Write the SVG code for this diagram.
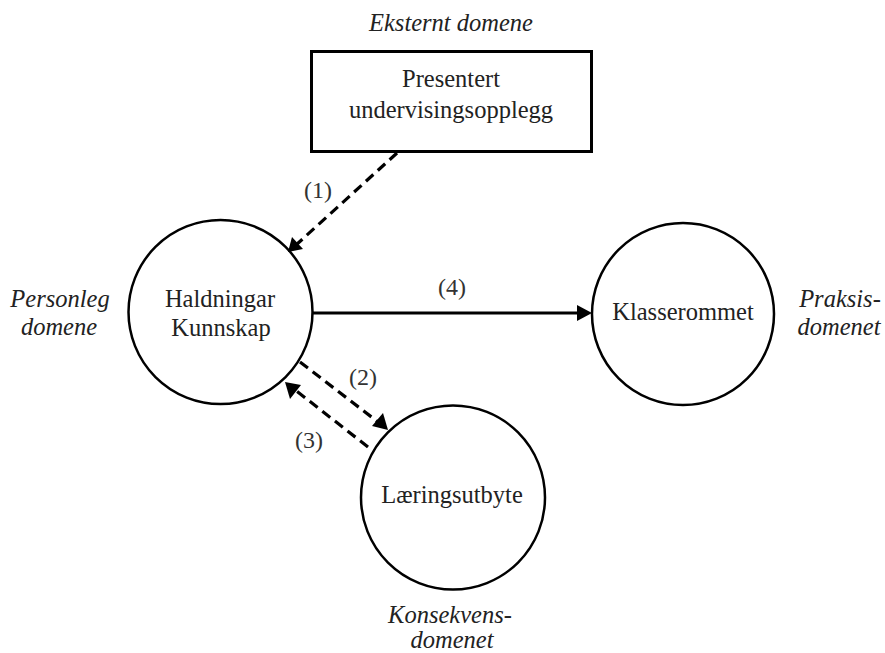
<svg xmlns="http://www.w3.org/2000/svg" width="885" height="653" viewBox="0 0 885 653">
  <defs>
    <style>
      .node { fill: #fff; stroke: #000; stroke-width: 2.5; }
      .box { fill: #fff; stroke: #000; stroke-width: 3; }
      .label { font-family: "Liberation Serif", "Times New Roman", serif; font-size: 24.5px; fill: #222; text-anchor: middle; }
      .domain { font-family: "Liberation Serif", "Times New Roman", serif; font-size: 24.5px; font-style: italic; fill: #222; text-anchor: middle; }
      .num { font-family: "Liberation Serif", "Times New Roman", serif; font-size: 24px; fill: #333; text-anchor: middle; }
      .dash { fill: none; stroke: #000; stroke-width: 3.2; stroke-dasharray: 10 6; }
      .solid { fill: none; stroke: #000; stroke-width: 3; }
      .head { fill: #000; }
    </style>
  </defs>

  <!-- domain captions -->
  <g id="domains">
    <text class="domain" x="451" y="31">Eksternt domene</text>
    <text class="domain" x="60" y="307">Personleg</text>
    <text class="domain" x="59" y="335">domene</text>
    <text class="domain" x="840" y="307">Praksis-</text>
    <text class="domain" x="839" y="335">domenet</text>
    <text class="domain" x="450" y="623">Konsekvens-</text>
    <text class="domain" x="452" y="648">domenet</text>
  </g>

  <g id="presentert">
    <rect class="box" x="311.5" y="51.5" width="280" height="100"/>
    <text class="label" x="451" y="87">Presentert</text>
    <text class="label" x="451" y="118">undervisingsopplegg</text>
  </g>

  <g id="haldningar">
    <circle class="node" cx="220.5" cy="312" r="92"/>
    <text class="label" x="220" y="307">Haldningar</text>
    <text class="label" x="221" y="336">Kunnskap</text>
  </g>

  <g id="klasserommet">
    <circle class="node" cx="683" cy="314" r="91"/>
    <text class="label" x="683" y="320">Klasserommet</text>
  </g>

  <g id="laeringsutbyte">
    <circle class="node" cx="453" cy="497.5" r="92"/>
    <text class="label" x="452" y="503">Læringsutbyte</text>
  </g>

  <!-- connectors -->
  <g id="connectors">
    <line class="dash" x1="397" y1="153" x2="296" y2="245"/>
    <path class="head" d="M288,252 L292,237 L303,249 z"/>
    <line class="solid" x1="313" y1="313" x2="578" y2="313"/>
    <path class="head" d="M592,313 L577,305 L577,321 z"/>
    <line class="dash" x1="300" y1="362" x2="378" y2="422"/>
    <path class="head" d="M388,430 L372,426 L383,413 z"/>
    <line class="dash" x1="368" y1="447" x2="294" y2="389"/>
    <path class="head" d="M285,382 L301,385 L290,399 z"/>
    <text class="num" x="318" y="198">(1)</text>
    <text class="num" x="363" y="385">(2)</text>
    <text class="num" x="309" y="448">(3)</text>
    <text class="num" x="452" y="295">(4)</text>
  </g>
</svg>
